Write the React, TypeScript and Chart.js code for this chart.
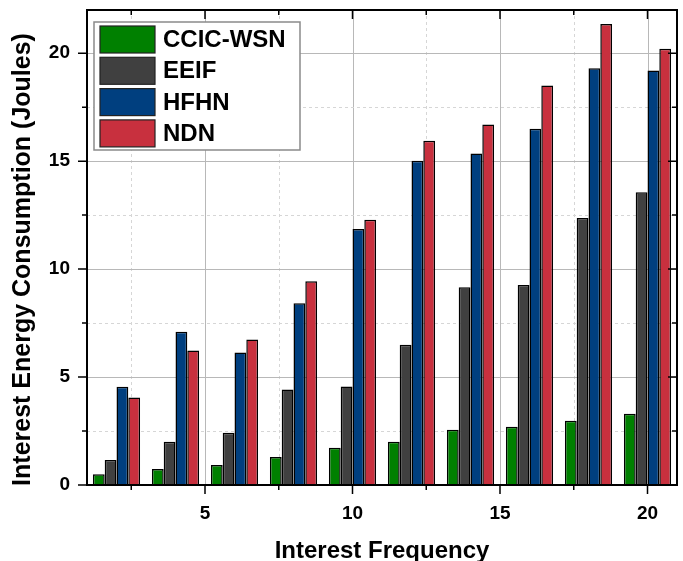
import React, { useEffect, useRef } from "react";
import { Chart, registerables } from "chart.js";

Chart.register(...registerables);

const frequencies = [2, 4, 6, 8, 10, 12, 14, 16, 18, 20];
const seriesNames = ["CCIC-WSN", "EEIF", "HFHN", "NDN"];
const ccicWsn = [0.5, 0.74, 0.93, 1.3, 1.72, 2.0, 2.56, 2.7, 2.98, 3.3];
const eeif = [1.16, 2.0, 2.42, 4.42, 4.56, 6.5, 9.16, 9.26, 12.37, 13.56];
const hfhn = [4.55, 7.1, 6.14, 8.42, 11.86, 15.02, 15.35, 16.5, 19.3, 19.2];
const ndn = [4.05, 6.23, 6.74, 9.44, 12.28, 15.95, 16.7, 18.5, 21.35, 20.2];
const seriesColors = ["#008000", "#404040", "#003F7F", "#C8303E"];
const xTickLabels = [5, 10, 15, 20];
const yTickLabels = [0, 5, 10, 15, 20];
const xGridValues = [2.5, 5, 7.5, 10, 12.5, 15, 17.5, 20];
const yGridValues = [2.5, 5, 7.5, 10, 12.5, 15, 17.5, 20];
const yTitle = "Interest Energy Consumption (Joules)";

const FONT = "'Liberation Sans', Arial, sans-serif";

const decorPlugin = {
  id: "decor",
  beforeDatasetsDraw(chart: any) {
    const { ctx, chartArea: a, scales } = chart;
    const xs = scales.x;
    const ys = scales.y;
    ctx.save();
    ctx.lineWidth = 1;
    xGridValues.forEach((v) => {
      const px = Math.round(xs.getPixelForValue(v)) + 0.5;
      const major = v % 5 === 0;
      ctx.strokeStyle = major ? "#b8b8b8" : "#d6d6d6";
      ctx.setLineDash(major ? [] : [3, 3]);
      ctx.beginPath();
      ctx.moveTo(px, a.top);
      ctx.lineTo(px, a.bottom);
      ctx.stroke();
    });
    yGridValues.forEach((v) => {
      const py = Math.round(ys.getPixelForValue(v)) + 0.5;
      const major = v % 5 === 0;
      ctx.strokeStyle = major ? "#b8b8b8" : "#d6d6d6";
      ctx.setLineDash(major ? [] : [3, 3]);
      ctx.beginPath();
      ctx.moveTo(a.left, py);
      ctx.lineTo(a.right, py);
      ctx.stroke();
    });
    ctx.restore();
  },
  afterDraw(chart: any) {
    const { ctx, chartArea: a, scales } = chart;
    const xs = scales.x;
    const ys = scales.y;
    ctx.save();
    ctx.setLineDash([]);
    ctx.strokeStyle = "#000";
    ctx.lineWidth = 2;
    ctx.strokeRect(a.left, a.top, a.right - a.left, a.bottom - a.top);
    ctx.lineWidth = 1.5;
    xGridValues.forEach((v) => {
      const px = xs.getPixelForValue(v);
      const len = v % 5 === 0 ? 9 : 5;
      ctx.beginPath();
      ctx.moveTo(px, a.bottom);
      ctx.lineTo(px, a.bottom + len);
      ctx.moveTo(px, a.top);
      ctx.lineTo(px, a.top + len);
      ctx.stroke();
    });
    yGridValues.forEach((v) => {
      const py = ys.getPixelForValue(v);
      const len = v % 5 === 0 ? 9 : 5;
      ctx.beginPath();
      ctx.moveTo(a.left, py);
      ctx.lineTo(a.left - len, py);
      ctx.moveTo(a.right, py);
      ctx.lineTo(a.right - len, py);
      ctx.stroke();
    });
    const py0 = ys.getPixelForValue(0);
    ctx.beginPath();
    ctx.moveTo(a.left, py0);
    ctx.lineTo(a.left - 9, py0);
    ctx.stroke();

    // y axis title
    ctx.save();
    ctx.translate(23, 259.5);
    ctx.rotate(-Math.PI / 2);
    ctx.fillStyle = "#000";
    ctx.font = `bold 25px ${FONT}`;
    ctx.textAlign = "center";
    ctx.textBaseline = "middle";
    ctx.fillText(yTitle, 0, 0);
    ctx.restore();

    // legend
    const lx = a.left + 7;
    const ly = a.top + 12;
    const lw = 206;
    const lh = 128;
    ctx.fillStyle = "#fff";
    ctx.fillRect(lx, ly, lw, lh);
    ctx.strokeStyle = "#8a8a8a";
    ctx.lineWidth = 1.5;
    ctx.strokeRect(lx, ly, lw, lh);
    chart.data.datasets.forEach((ds: any, i: number) => {
      const ry = ly + 4 + i * 31.3;
      ctx.fillStyle = ds.backgroundColor;
      ctx.fillRect(lx + 6, ry, 55, 27);
      ctx.strokeStyle = "#222";
      ctx.lineWidth = 1.2;
      ctx.strokeRect(lx + 6, ry, 55, 27);
      ctx.fillStyle = "#000";
      ctx.font = `bold 24px ${FONT}`;
      ctx.textBaseline = "middle";
      ctx.textAlign = "left";
      ctx.fillText(ds.label, lx + 69, ry + 14.5);
    });
    ctx.restore();
  },
};

export default function App() {
  const ref = useRef<HTMLCanvasElement | null>(null);
  useEffect(() => {
    if (!ref.current) return;
    const seriesValues = [ccicWsn, eeif, hfhn, ndn];
    const chart = new Chart(ref.current, {
      type: "bar",
      data: {
        datasets: seriesNames.map((name, i) => ({
          label: name,
          data: frequencies.map((f, j) => ({ x: f, y: seriesValues[i][j] })),
          backgroundColor: seriesColors[i],
          borderColor: "#000",
          borderWidth: 1.5,
          categoryPercentage: 0.8,
          barPercentage: 1.0,
        })),
      },
      plugins: [decorPlugin],
      options: {
        responsive: false,
        animation: false,
        devicePixelRatio: 1,
        layout: { padding: { left: 0, right: 6, top: 10, bottom: 0 } },
        plugins: {
          legend: { display: false },
          tooltip: { enabled: false },
        },
        scales: {
          x: {
            type: "linear",
            min: 1,
            max: 21,
            offset: false,
            grid: { display: false, drawTicks: false },
            border: { display: false },
            afterBuildTicks: (s: any) => {
              s.ticks = xTickLabels.map((v) => ({ value: v }));
            },
            afterFit: (s: any) => {
              s.height = 76;
              s.paddingLeft = 0;
              s.paddingRight = 0;
            },
            ticks: {
              padding: 17,
              color: "#000",
              font: { family: FONT, size: 19, weight: "bold" },
            },
            title: {
              display: true,
              text: "Interest Frequency",
              color: "#000",
              font: { family: FONT, size: 24, weight: "bold" },
              padding: { top: 0, bottom: -5 },
            },
          },
          y: {
            min: 0,
            max: 22,
            grid: { display: false, drawTicks: false },
            border: { display: false },
            afterBuildTicks: (s: any) => {
              s.ticks = yTickLabels.map((v) => ({ value: v }));
            },
            afterFit: (s: any) => {
              s.width = 87;
              s.paddingTop = 0;
              s.paddingBottom = 0;
            },
            ticks: {
              padding: 17,
              color: "#000",
              font: { family: FONT, size: 19, weight: "bold" },
            },
            title: { display: false },
          },
        },
      },
    } as any);
    return () => chart.destroy();
  }, []);
  return (
    <div style={{ position: "fixed", left: 0, top: 0, width: 683, height: 561, background: "#fff" }}>
      <canvas ref={ref} width={683} height={561} style={{ display: "block", width: 683, height: 561 }} />
    </div>
  );
}
